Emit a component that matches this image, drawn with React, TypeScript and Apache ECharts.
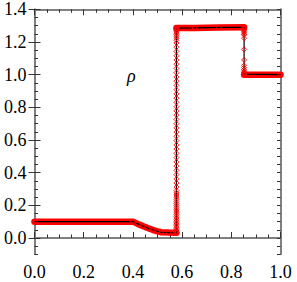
import React, { useEffect, useRef } from "react";
import * as echarts from "echarts";

// Left state + rarefaction + tail plateau (x ascending)
const leftX = [0.0, 0.4, 0.42, 0.44, 0.46, 0.48, 0.5, 0.515, 0.545, 0.577];
const leftRho = [0.1, 0.1, 0.086, 0.073, 0.061, 0.05, 0.041, 0.035, 0.033, 0.032];

// Contact discontinuity points (all at same x, ascending rho)
const contactX = 0.577;
const contactRho = [
  0.036, 0.043, 0.05, 0.058, 0.066, 0.075, 0.084, 0.093, 0.102, 0.112,
  0.122, 0.132, 0.143, 0.154, 0.165, 0.176, 0.188, 0.2, 0.212, 0.224,
  0.237, 0.25, 0.263, 0.276, 0.29, 0.312, 0.337, 0.362, 0.388, 0.414,
  0.44, 0.466, 0.492, 0.518, 0.544, 0.57, 0.596, 0.622, 0.648, 0.674,
  0.7, 0.726, 0.752, 0.778, 0.804, 0.83, 0.856, 0.882, 0.908, 0.934,
  0.96, 0.986, 1.012, 1.038, 1.064, 1.09, 1.116, 1.142, 1.168, 1.194,
  1.21, 1.223, 1.235, 1.245, 1.254, 1.262, 1.269, 1.275, 1.28, 1.284,
];

// Post-contact plateau
const plateauX = [0.577, 0.65, 0.75, 0.852];
const plateauRho = [1.285, 1.286, 1.289, 1.29];

// Shock points (all at same x, descending rho)
const shockX = 0.852;
const shockRho = [
  1.284, 1.278, 1.271, 1.264, 1.256, 1.248, 1.243, 1.223, 1.155, 1.09,
  1.057, 1.043, 1.032, 1.022, 1.014, 1.008, 1.003,
];

// Right state
const rightX = [0.852, 1.0];
const rightRho = [1.0, 1.0];

const xMajor = [0, 0.2, 0.4, 0.6, 0.8, 1.0];
const yMajor = [0, 0.2, 0.4, 0.6, 0.8, 1.0, 1.2, 1.4];

const FONT = "'Liberation Serif', 'DejaVu Serif', serif";
const FRAME = "#808080";
const TICK = "#333";

export default function App() {
  const ref = useRef<HTMLDivElement>(null);
  useEffect(() => {
    if (!ref.current) return;
    const chart = echarts.init(ref.current, null, { renderer: "svg" });

    const pair = (xs: number[], ys: number[]) => xs.map((x, i) => [x, ys[i]]);
    const leftPts = pair(leftX, leftRho);
    const contactPts = contactRho.map((r) => [contactX, r]);
    const plateauPts = pair(plateauX, plateauRho);
    const shockPts = shockRho.map((r) => [shockX, r]);
    const rightPts = pair(rightX, rightRho);

    const allPts = [...leftPts, ...contactPts, ...plateauPts, ...shockPts, ...rightPts];
    const bandPts: any[] = [...leftPts, null, ...plateauPts, null, ...rightPts];

    const minorY = {
      type: "value",
      min: -0.1,
      max: 1.4,
      interval: 0.05,
      splitLine: { show: false },
      axisLabel: { show: false },
      axisTick: { show: true, inside: true, length: 3.5, lineStyle: { color: TICK, width: 1 } },
    };

    const option: any = {
      animation: false,
      grid: { left: 34.5, right: 16.5, top: 9.3, bottom: 27.7, containLabel: false },
      xAxis: [
        {
          type: "value",
          position: "bottom",
          min: 0,
          max: 1,
          interval: 0.2,
          splitLine: { show: false },
          axisLine: { show: true, lineStyle: { color: FRAME, width: 2 } },
          axisTick: { show: true, inside: true, length: 6, lineStyle: { color: TICK, width: 1 } },
          minorTick: { show: true, splitNumber: 4, length: 3.5, lineStyle: { color: TICK, width: 1 } },
          axisLabel: {
            show: true,
            margin: 9,
            color: "#000",
            fontFamily: FONT,
            fontSize: 18,
            formatter: (v: number) => (xMajor.some((m) => Math.abs(m - v) < 1e-9) ? v.toFixed(1) : ""),
          },
        },
        {
          type: "value",
          position: "top",
          min: 0,
          max: 1,
          interval: 0.2,
          splitLine: { show: false },
          axisLine: { show: true, onZero: false, lineStyle: { color: FRAME, width: 2 } },
          axisTick: { show: true, inside: true, length: 6, lineStyle: { color: TICK, width: 1 } },
          minorTick: { show: true, splitNumber: 4, length: 3.5, lineStyle: { color: TICK, width: 1 } },
          axisLabel: { show: false },
        },
      ],
      yAxis: [
        {
          ...minorY,
          position: "left",
          axisLine: { show: true, onZero: false, lineStyle: { color: FRAME, width: 2 } },
        },
        {
          type: "value",
          position: "left",
          min: -0.1,
          max: 1.4,
          splitLine: { show: false },
          axisLine: { show: false },
          axisTick: {
            show: true,
            inside: true,
            length: 6,
            customValues: yMajor,
            lineStyle: { color: TICK, width: 1 },
          },
          axisLabel: {
            show: true,
            margin: 8,
            color: "#000",
            fontFamily: FONT,
            fontSize: 18,
            customValues: yMajor,
            formatter: (v: number) => v.toFixed(1),
          },
        },
        {
          ...minorY,
          position: "right",
          axisLine: { show: true, onZero: false, lineStyle: { color: FRAME, width: 2 } },
        },
        {
          type: "value",
          position: "right",
          min: -0.1,
          max: 1.4,
          splitLine: { show: false },
          axisLine: { show: false },
          axisTick: {
            show: true,
            inside: true,
            length: 6,
            customValues: yMajor,
            lineStyle: { color: TICK, width: 1 },
          },
          axisLabel: { show: false },
        },
      ],
      series: [
        {
          type: "line",
          xAxisIndex: 0,
          yAxisIndex: 0,
          data: bandPts,
          connectNulls: false,
          showSymbol: false,
          symbol: "none",
          lineStyle: { color: "#ff0000", width: 6.5, cap: "round", join: "round" },
          silent: true,
          z: 2,
        },
        {
          type: "line",
          xAxisIndex: 0,
          yAxisIndex: 0,
          data: allPts,
          symbol: "diamond",
          symbolSize: [5, 5],
          showAllSymbol: true,
          lineStyle: { color: "#000", width: 1.2 },
          itemStyle: { color: "rgba(255,255,255,0)", borderColor: "#ff0000", borderWidth: 0.9 },
          z: 3,
        },
      ],
      graphic: [
        {
          type: "text",
          left: 127,
          top: 67,
          style: {
            text: "ρ",
            font: `italic 18px ${FONT}`,
            fill: "#000",
          },
        },
      ],
    };
    chart.setOption(option);
    return () => chart.dispose();
  }, []);
  return (
    <div
      ref={ref}
      style={{ position: "fixed", left: 0, top: 0, width: 297, height: 282, background: "#fff" }}
    />
  );
}
